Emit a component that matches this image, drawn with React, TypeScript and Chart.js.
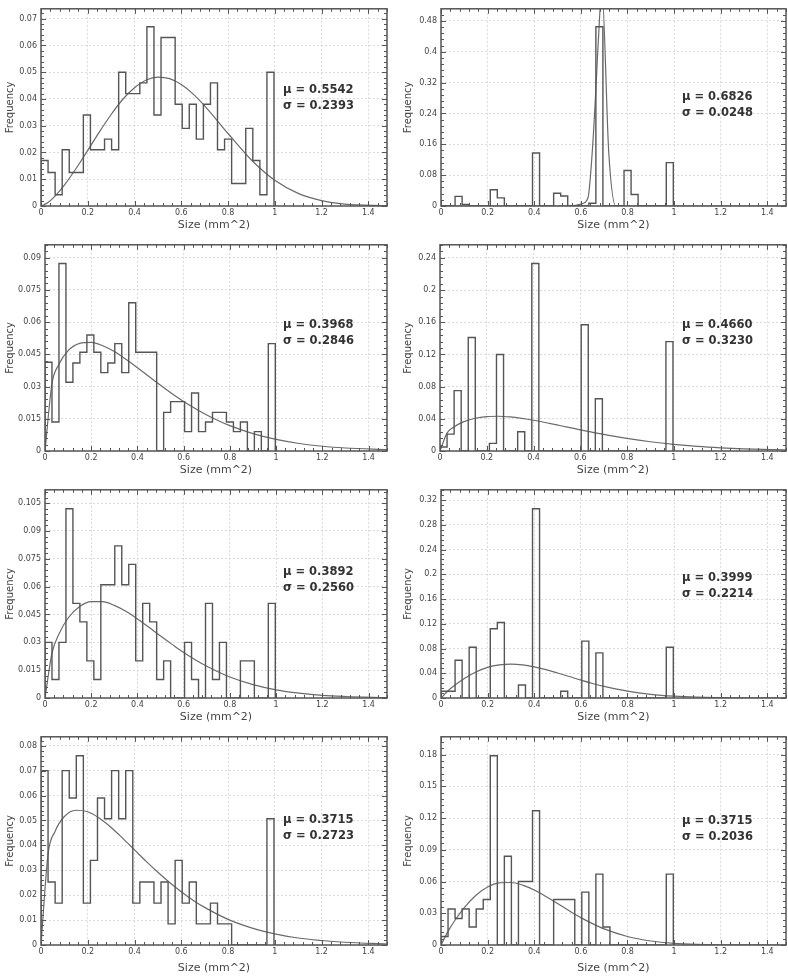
import React, { useEffect, useRef } from "react";
import { Chart, registerables } from "chart.js";

Chart.register(...registerables);

// ---------- data ----------
const BIN_WIDTH = 0.0302;
const X_MAX = 1.48;

// histogram bin heights (33 bins starting at 0)
const H1 = [0.017, 0.0125, 0.0042, 0.021, 0.0125, 0.0125, 0.034, 0.021, 0.021, 0.025, 0.021, 0.05, 0.042, 0.042, 0.046, 0.067, 0.034, 0.063, 0.063, 0.038, 0.029, 0.038, 0.025, 0.038, 0.046, 0.021, 0.025, 0.0084, 0.0084, 0.029, 0.017, 0.0042, 0.05];
const H2 = [0, 0, 0.025, 0.004, 0, 0, 0, 0.042, 0.021, 0, 0, 0, 0, 0.1375, 0, 0, 0.033, 0.026, 0, 0, 0, 0.007, 0.465, 0, 0, 0, 0.092, 0.03, 0, 0, 0, 0, 0.1125];
const H3 = [0.0413, 0.0135, 0.0873, 0.032, 0.041, 0.046, 0.054, 0.046, 0.0365, 0.041, 0.05, 0.0365, 0.069, 0.046, 0.046, 0.046, 0, 0.018, 0.023, 0.023, 0.009, 0.027, 0.009, 0.0135, 0.018, 0.018, 0.0135, 0.009, 0.0135, 0, 0.009, 0, 0.05];
const H4 = [0.005, 0.021, 0.075, 0, 0.141, 0, 0, 0.0095, 0.12, 0, 0, 0.024, 0, 0.233, 0, 0, 0, 0, 0, 0, 0.157, 0, 0.065, 0, 0, 0, 0, 0, 0, 0, 0, 0, 0.136];
const H5 = [0.03, 0.01, 0.03, 0.102, 0.051, 0.041, 0.02, 0.01, 0.061, 0.061, 0.082, 0.061, 0.072, 0.02, 0.051, 0.041, 0.01, 0.02, 0, 0, 0.03, 0.01, 0, 0.051, 0.01, 0.03, 0, 0, 0.02, 0.02, 0, 0, 0.051];
const H6 = [0.011, 0.011, 0.061, 0, 0.082, 0, 0, 0.112, 0.122, 0, 0, 0.021, 0, 0.306, 0, 0, 0, 0.011, 0, 0, 0.092, 0, 0.073, 0, 0, 0, 0, 0, 0, 0, 0, 0, 0.082];
const H7 = [0.07, 0.0253, 0.0168, 0.07, 0.059, 0.076, 0.0168, 0.034, 0.059, 0.0507, 0.07, 0.0507, 0.07, 0.0168, 0.0253, 0.0253, 0.0168, 0.0253, 0.0085, 0.034, 0.0168, 0.0253, 0.0085, 0.0085, 0.0168, 0.0085, 0.0085, 0, 0, 0, 0, 0, 0.0507];
const H8 = [0.008, 0.034, 0.025, 0.034, 0.017, 0.034, 0.043, 0.179, 0, 0.084, 0, 0.06, 0.06, 0.127, 0, 0, 0.043, 0.043, 0.043, 0, 0.05, 0, 0.067, 0.017, 0, 0, 0, 0, 0, 0, 0, 0, 0.067];

// fitted curves (read at these x positions)
const CURVE_X = [0, 0.03, 0.06, 0.1, 0.15, 0.2, 0.25, 0.3, 0.35, 0.4, 0.45, 0.5, 0.55, 0.6, 0.65, 0.7, 0.8, 0.9, 1.0, 1.1, 1.2, 1.3, 1.48];
const C1 = [0, 0.0013, 0.0037, 0.0078, 0.014, 0.0208, 0.0277, 0.0342, 0.0399, 0.0442, 0.0471, 0.0482, 0.0476, 0.0454, 0.0419, 0.0374, 0.0271, 0.0172, 0.0096, 0.0047, 0.002, 0.0007, 0.0001];
const C3 = [0, 0.0313, 0.0403, 0.0467, 0.0501, 0.0506, 0.049, 0.0463, 0.0427, 0.0388, 0.0347, 0.0306, 0.0267, 0.0231, 0.0198, 0.0168, 0.0118, 0.0081, 0.0054, 0.0035, 0.0022, 0.0014, 0.0006];
const C4 = [0, 0.0222, 0.0299, 0.0362, 0.0407, 0.0428, 0.0432, 0.0423, 0.0405, 0.0382, 0.0354, 0.0324, 0.0294, 0.0263, 0.0234, 0.0206, 0.0156, 0.0115, 0.0083, 0.0058, 0.004, 0.0027, 0.0013];
const C5 = [0, 0.0241, 0.0343, 0.0431, 0.0493, 0.0519, 0.0519, 0.0499, 0.0467, 0.0426, 0.0381, 0.0334, 0.0289, 0.0245, 0.0206, 0.0171, 0.0113, 0.0072, 0.0044, 0.0026, 0.0014, 0.0008, 0.0002];
const C6 = [0, 0.0117, 0.0211, 0.0317, 0.0421, 0.0494, 0.0535, 0.0548, 0.0536, 0.0504, 0.0459, 0.0404, 0.0347, 0.0289, 0.0235, 0.0187, 0.011, 0.0059, 0.0029, 0.0013, 0.0006, 0.0002, 0];
const C7 = [0, 0.0364, 0.0456, 0.0516, 0.0541, 0.0535, 0.0509, 0.0472, 0.0428, 0.0382, 0.0336, 0.0292, 0.0251, 0.0214, 0.018, 0.0151, 0.0103, 0.0069, 0.0045, 0.0028, 0.0018, 0.0011, 0.0004];
const C8 = [0, 0.0129, 0.0234, 0.0354, 0.0471, 0.0548, 0.0587, 0.0591, 0.0566, 0.052, 0.0459, 0.0392, 0.0324, 0.0259, 0.0202, 0.0152, 0.008, 0.0038, 0.0016, 0.0006, 0.0002, 0.0001, 0];
const CURVE_X2 = [0, 0.5, 0.57, 0.6, 0.63, 0.65, 0.665, 0.675, 0.69, 0.72, 0.75, 1.48];
const C2 = [0, 0, 0.001, 0.005, 0.02, 0.15, 0.31, 0.43, 0.56, 0.135, 0, 0];

const MU = ["0.5542", "0.6826", "0.3968", "0.4660", "0.3892", "0.3999", "0.3715", "0.3715"];
const SIGMA = ["0.2393", "0.0248", "0.2846", "0.3230", "0.2560", "0.2214", "0.2723", "0.2036"];
const Y_STEP = [0.01, 0.08, 0.015, 0.04, 0.015, 0.04, 0.01, 0.03];
const Y_MAX = [0.0737, 0.5115, 0.096, 0.2563, 0.1122, 0.3366, 0.0836, 0.1969];

const HISTS = [H1, H2, H3, H4, H5, H6, H7, H8];
const CURVES = [
  [CURVE_X, C1], [CURVE_X2, C2], [CURVE_X, C3], [CURVE_X, C4],
  [CURVE_X, C5], [CURVE_X, C6], [CURVE_X, C7], [CURVE_X, C8],
];

// ---------- layout ----------
const ROWS = [
  { top: 0, padTop: 1, plotBottom: 206, titleGap: 19 },
  { top: 236, padTop: 7, plotBottom: 451, titleGap: 19 },
  { top: 481, padTop: 8, plotBottom: 698, titleGap: 19 },
  { top: 728, padTop: 7, plotBottom: 945, titleGap: 23 },
];
const COLS = [
  { left: 0, padRight: 7, titlePad: 4, textX: 283 },
  { left: 394, padRight: 2, titlePad: 8, textX: 288 },
];
const Y_WIDTH = [41, 47, 45, 46, 45, 47, 41, 47];
const TEXT_Y = [81, 88, 80, 80, 82, 88, 83, 84];
const X_AXIS_H = 30;

const INK = "#555555";
const FONT = "DejaVu Sans";

const framePlugin = {
  id: "frame",
  afterDatasetsDraw(chart: any, _args: any, opts: any) {
    const { ctx, chartArea: a, scales } = chart;
    const xs = scales.x;
    const ys = scales.y;
    ctx.save();
    ctx.strokeStyle = INK;
    ctx.lineWidth = 1;
    ctx.beginPath();
    const xMinor = 0.04;
    for (let i = 0; i * xMinor <= X_MAX + 1e-9; i++) {
      const v = i * xMinor;
      const px = Math.round(xs.getPixelForValue(v)) + 0.5;
      const len = i % 5 === 0 ? 5 : 3;
      ctx.moveTo(px, a.bottom);
      ctx.lineTo(px, a.bottom - len);
      ctx.moveTo(px, a.top);
      ctx.lineTo(px, a.top + len);
    }
    const yMinor = opts.yStep / 5;
    for (let i = 0; i * yMinor <= ys.max + 1e-9; i++) {
      const py = Math.round(ys.getPixelForValue(i * yMinor)) + 0.5;
      const len = i % 5 === 0 ? 5 : 3;
      ctx.moveTo(a.left, py);
      ctx.lineTo(a.left + len, py);
      ctx.moveTo(a.right, py);
      ctx.lineTo(a.right - len, py);
    }
    ctx.stroke();
    ctx.lineWidth = 1.5;
    ctx.strokeRect(a.left, a.top, a.right - a.left, a.bottom - a.top);

    ctx.fillStyle = "#333333";
    ctx.font = `bold 11.5px "${FONT}"`;
    ctx.textBaseline = "middle";
    ctx.textAlign = "left";
    ctx.fillText(`μ = ${opts.mu}`, opts.textX, a.top + opts.textY);
    ctx.fillText(`σ = ${opts.sigma}`, opts.textX, a.top + opts.textY + 16);
    ctx.restore();
  },
};

function histPoints(vals: number[]) {
  const pts = [{ x: 0, y: 0 }];
  vals.forEach((v, i) => pts.push({ x: i * BIN_WIDTH, y: v }));
  pts.push({ x: vals.length * BIN_WIDTH, y: 0 });
  return pts;
}

function Panel({ index }: { index: number }) {
  const ref = useRef<HTMLCanvasElement>(null);
  const row = ROWS[Math.floor(index / 2)];
  const col = COLS[index % 2];
  const height = row.plotBottom + X_AXIS_H - row.top;

  useEffect(() => {
    const [cx, cy] = CURVES[index] as [number[], number[]];
    const chart = new Chart(ref.current as HTMLCanvasElement, {
      type: "line",
      data: {
        datasets: [
          {
            data: histPoints(HISTS[index]),
            stepped: "before",
            borderColor: INK,
            borderWidth: 1.4,
            pointRadius: 0,
            fill: false,
          } as any,
          {
            data: cx.map((x, i) => ({ x, y: cy[i] })),
            cubicInterpolationMode: "monotone",
            borderColor: "#6a6a6a",
            borderWidth: 1.2,
            pointRadius: 0,
            fill: false,
          } as any,
        ],
      },
      options: {
        responsive: false,
        devicePixelRatio: 1,
        animation: false,
        events: [],
        layout: { padding: { top: row.padTop, right: col.padRight, left: 0, bottom: 0 } },
        plugins: {
          legend: { display: false },
          tooltip: { enabled: false },
          frame: {
            mu: MU[index],
            sigma: SIGMA[index],
            yStep: Y_STEP[index],
            textX: col.textX,
            textY: TEXT_Y[index],
          },
        } as any,
        scales: {
          x: {
            type: "linear",
            min: 0,
            max: X_MAX,
            afterFit: (s: any) => {
              s.height = X_AXIS_H;
            },
            ticks: {
              stepSize: 0.2,
              includeBounds: false,
              autoSkip: false,
              maxRotation: 0,
              padding: 2,
              color: "#444",
              font: { family: FONT, size: 8 },
              callback: (v: any) => String(Number(Number(v).toFixed(2))),
            },
            grid: { color: "#dadada", drawTicks: false, lineWidth: 1 },
            border: { display: false, dash: [2, 2] },
            title: {
              display: true,
              text: "Size (mm^2)",
              color: "#444",
              font: { family: FONT, size: 11 },
              padding: { top: 0, bottom: X_AXIS_H - 6.6 - row.titleGap },
            },
          } as any,
          y: {
            type: "linear",
            min: 0,
            max: Y_MAX[index],
            afterFit: (s: any) => {
              s.width = Y_WIDTH[index];
            },
            ticks: {
              stepSize: Y_STEP[index],
              includeBounds: false,
              autoSkip: false,
              padding: 4,
              color: "#444",
              font: { family: FONT, size: 8 },
              callback: (v: any) => String(Number(Number(v).toFixed(4))),
            },
            grid: { color: "#dadada", drawTicks: false, lineWidth: 1 },
            border: { display: false, dash: [2, 2] },
            title: {
              display: true,
              text: "Frequency",
              color: "#444",
              font: { family: FONT, size: 10 },
              padding: { top: col.titlePad, bottom: 0 },
            },
          } as any,
        },
      },
      plugins: [framePlugin as any],
    });
    return () => chart.destroy();
  }, [index]);

  return (
    <canvas
      ref={ref}
      width={394}
      height={height}
      style={{ position: "absolute", left: col.left, top: row.top, display: "block" }}
    />
  );
}

export default function App() {
  return (
    <div style={{ position: "absolute", left: 0, top: 0, width: 788, height: 976, background: "#fff", overflow: "hidden" }}>
      {HISTS.map((_, i) => (
        <Panel key={i} index={i} />
      ))}
    </div>
  );
}
